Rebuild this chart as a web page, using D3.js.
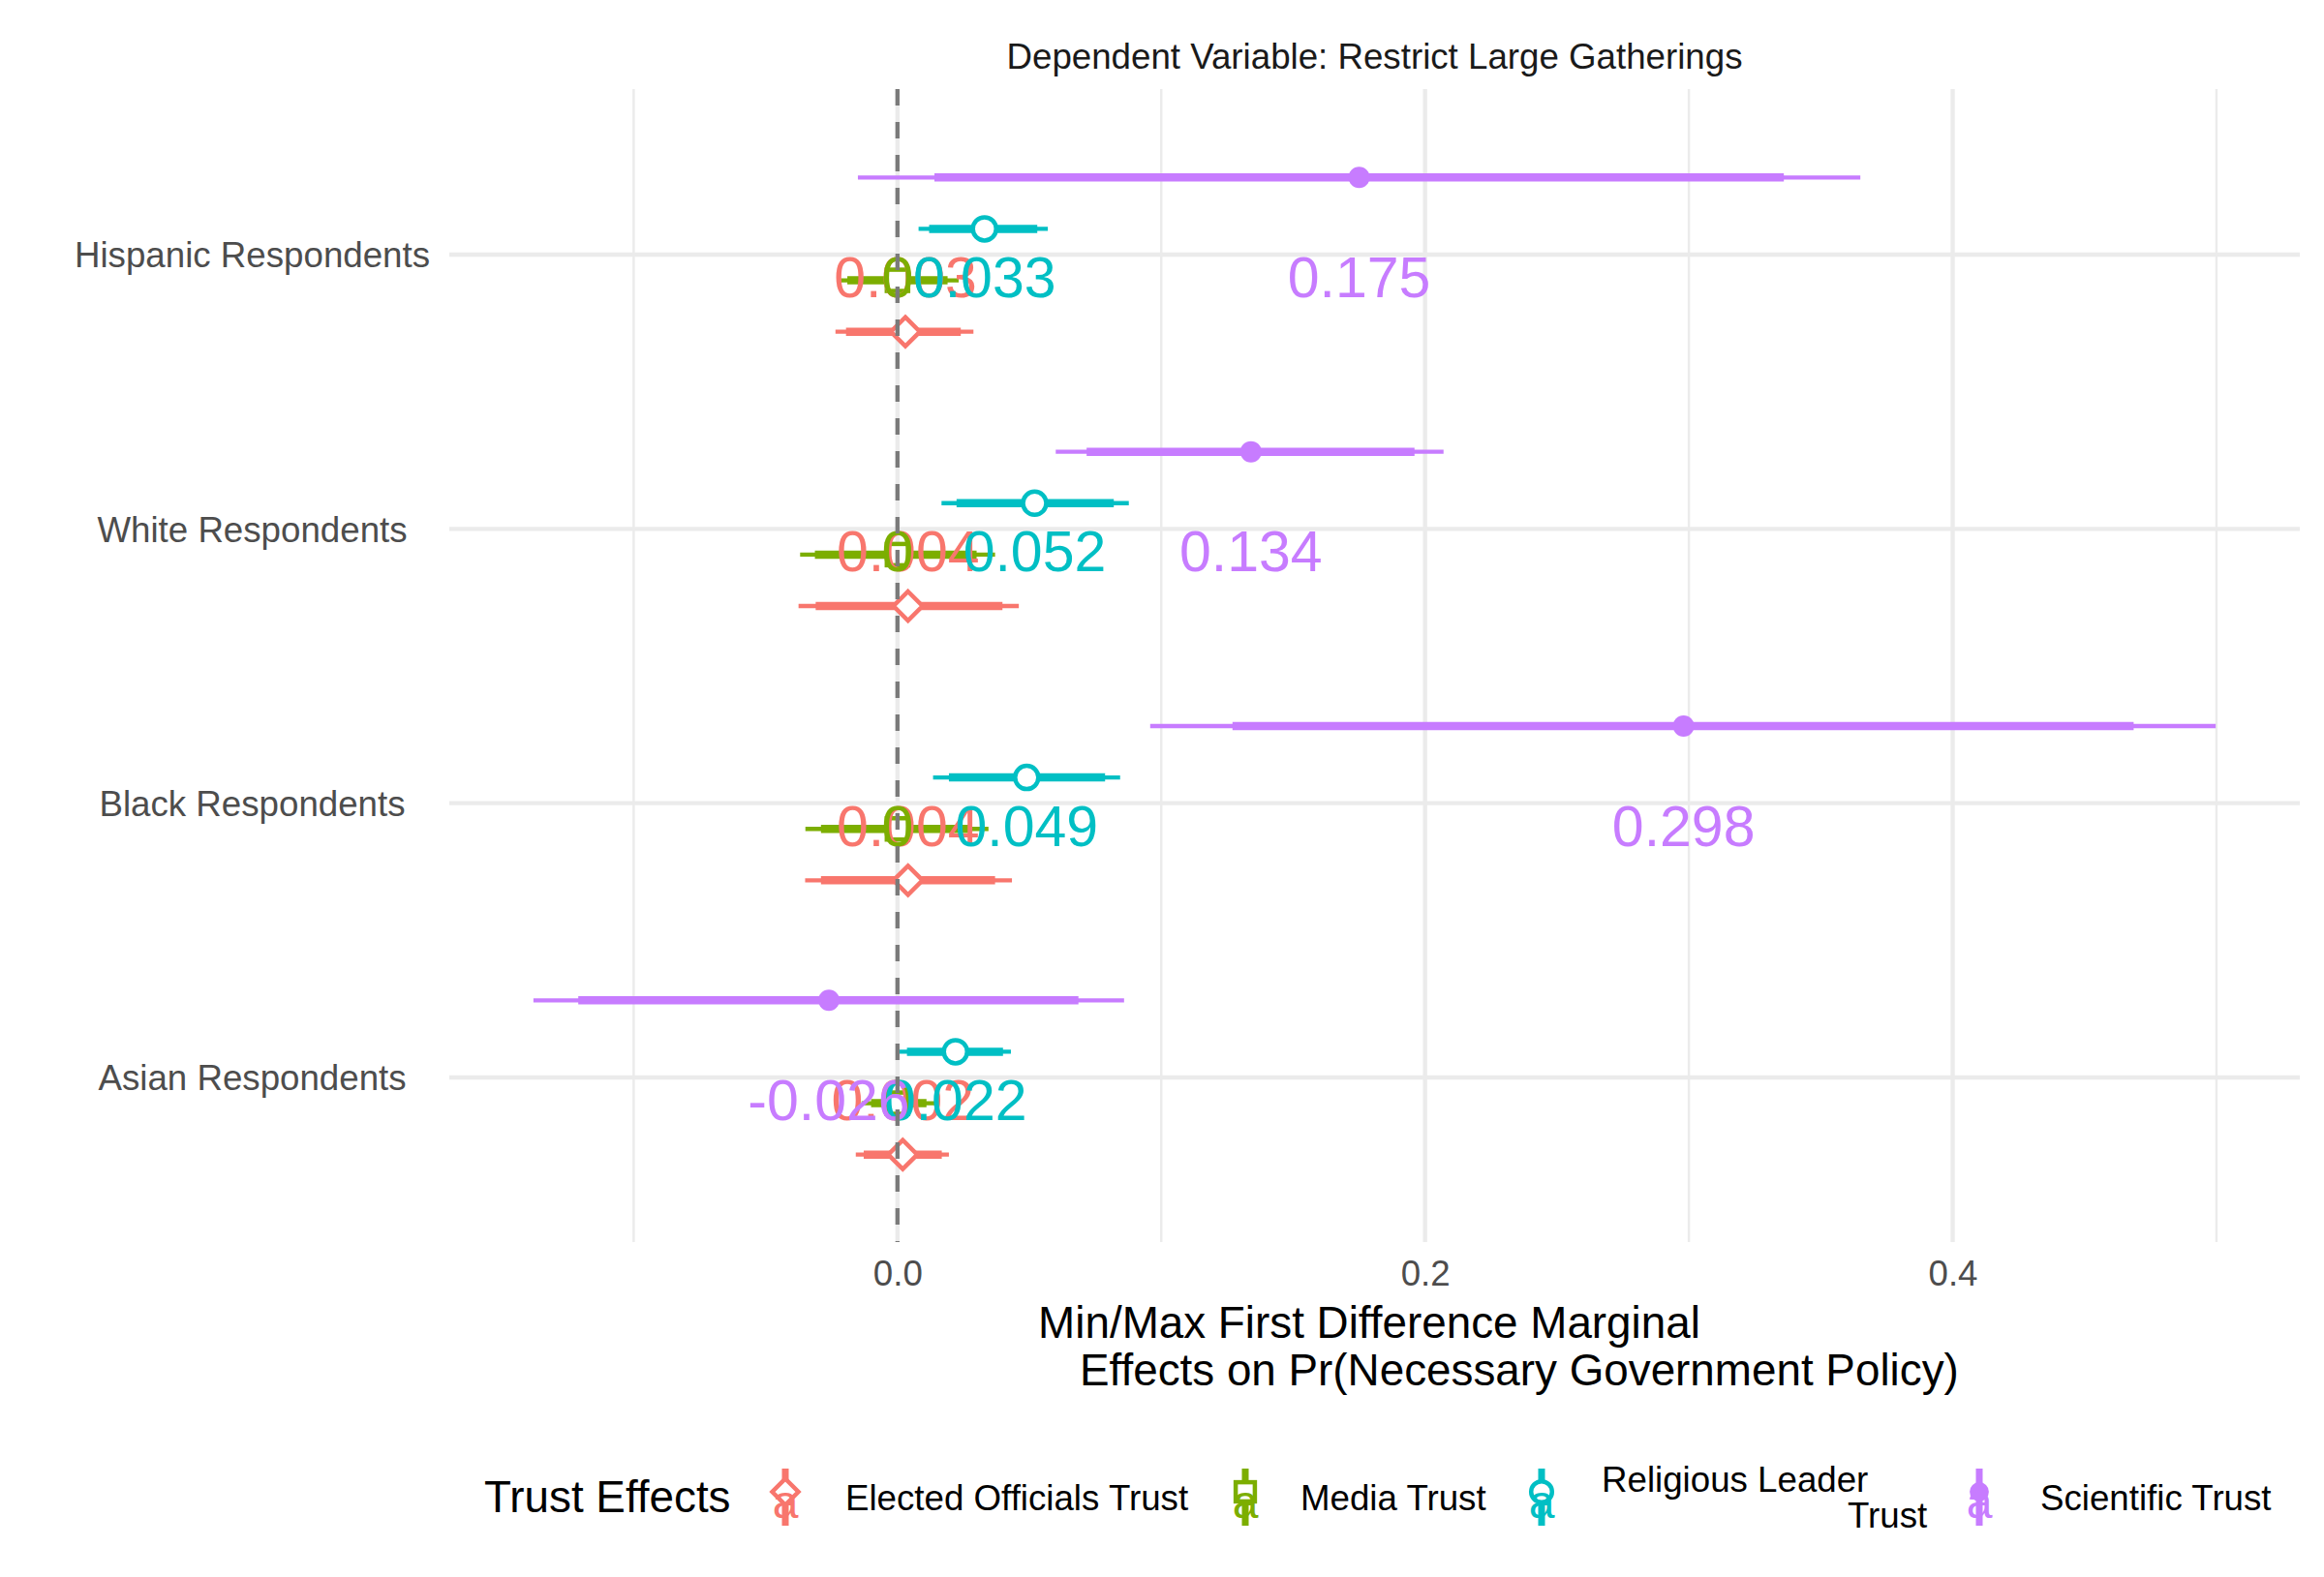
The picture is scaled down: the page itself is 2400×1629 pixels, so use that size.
<!DOCTYPE html>
<html>
<head>
<meta charset="utf-8">
<script src="https://cdn.jsdelivr.net/npm/d3@7"></script>
<style>
  html, body { margin: 0; padding: 0; background: #fff; }
  svg { display: block; font-family: "Liberation Sans", Arial, Helvetica, sans-serif; }
</style>
</head>
<body>
<svg id="chart" width="2400" height="1629"></svg>
<script>
// ---------------- data ----------------
const stripTitle = "Dependent Variable: Restrict Large Gatherings";
const categories = ["Hispanic Respondents", "White Respondents", "Black Respondents", "Asian Respondents"];
const seriesNames = ["Elected Officials Trust", "Media Trust", "Religious Leader Trust", "Scientific Trust"];
const legendLabels = [["Elected Officials Trust"], ["Media Trust"], ["Religious Leader", "Trust"], ["Scientific Trust"]];
const seriesColors = ["#F8766D", "#7CAE00", "#00BFC4", "#C77CFF"];
const seriesShapes = ["diamond", "square", "circle", "dot"];
const legendTitle = "Trust Effects";
const xTitleLines = ["Min/Max First Difference Marginal", "Effects on Pr(Necessary Government Policy)"];
const xTicks = [0.0, 0.2, 0.4];
const xTickLabels = ["0.0", "0.2", "0.4"];
const xMinorTicks = [-0.1, 0.1, 0.3, 0.5];

// point estimates, by category (Hispanic, White, Black, Asian)
const electedEst    = [0.003, 0.004, 0.004, 0.002];
const mediaEst      = [0.000, 0.000, 0.000, 0.000];
const religiousEst  = [0.033, 0.052, 0.049, 0.022];
const scientificEst = [0.175, 0.134, 0.298, -0.026];

// outer (thin) intervals [lo, hi]
const electedOuter    = [[-0.0235, 0.0288], [-0.0375, 0.046], [-0.035, 0.0434], [-0.0158, 0.0195]];
const mediaOuter      = [[-0.0215, 0.0232], [-0.0369, 0.037], [-0.0349, 0.0345], [-0.0136, 0.0143]];
const religiousOuter  = [[0.008, 0.057], [0.0167, 0.0877], [0.0135, 0.0844], [0.0007, 0.043]];
const scientificOuter = [[-0.015, 0.365], [0.060, 0.207], [0.0958, 0.4997], [-0.138, 0.0859]];

// inner (thick) intervals [lo, hi]
const electedInner    = [[-0.0195, 0.024], [-0.031, 0.0398], [-0.029, 0.037], [-0.0128, 0.0168]];
const mediaInner      = [[-0.019, 0.019], [-0.0313, 0.030], [-0.029, 0.028], [-0.010, 0.011]];
const religiousInner  = [[0.012, 0.053], [0.0224, 0.082], [0.0195, 0.0787], [0.0036, 0.040]];
const scientificInner = [[0.014, 0.336], [0.0717, 0.196], [0.127, 0.4686], [-0.121, 0.0686]];

const estimates = [electedEst, mediaEst, religiousEst, scientificEst];
const outers = [electedOuter, mediaOuter, religiousOuter, scientificOuter];
const inners = [electedInner, mediaInner, religiousInner, scientificInner];

// ---------------- build rows ----------------
const rows = [];
seriesNames.forEach((s, si) => {
  categories.forEach((c, ci) => {
    rows.push({ series: s, si, cat: c, est: estimates[si][ci],
      olo: outers[si][ci][0], ohi: outers[si][ci][1],
      ilo: inners[si][ci][0], ihi: inners[si][ci][1] });
  });
});

function fmtLabel(v) {
  const r = Math.round(v * 1000) / 1000;
  if (r === 0) return "0";
  return String(r);
}

// ---------------- layout ----------------
const svg = d3.select("#chart");
const panel = { left: 464, right: 2375, top: 93, bottom: 1283 };

const allVals = rows.flatMap(d => [d.olo, d.ohi, d.est]);
const ext = d3.extent(allVals);
const pad = (ext[1] - ext[0]) * 0.05;
const x = d3.scaleLinear().domain([ext[0] - pad, ext[1] + pad]).range([panel.left, panel.right]);

const y = d3.scalePoint().domain(categories).range([panel.top, panel.bottom]).padding(0.6);
const step = y.step();
const dodgeWidth = 0.75;
// top to bottom within group: Scientific, Religious, Media, Elected
function dodgeY(d) {
  const n = seriesNames.length;
  const pos = (n - 1 - d.si); // Elected lowest
  const off = (pos - (n - 1) / 2) * (dodgeWidth / n);
  return y(d.cat) + off * step;
}

const grid = "#EBEBEB";
// minor vertical gridlines
svg.append("g").selectAll("line").data(xMinorTicks).join("line")
  .attr("x1", d => x(d)).attr("x2", d => x(d))
  .attr("y1", panel.top - 1).attr("y2", panel.bottom)
  .attr("stroke", grid).attr("stroke-width", 2.4);
// major vertical gridlines
svg.append("g").selectAll("line").data(xTicks).join("line")
  .attr("x1", d => x(d)).attr("x2", d => x(d))
  .attr("y1", panel.top - 1).attr("y2", panel.bottom)
  .attr("stroke", grid).attr("stroke-width", 4.3);
// horizontal gridlines
svg.append("g").selectAll("line").data(categories).join("line")
  .attr("x1", panel.left).attr("x2", panel.right)
  .attr("y1", d => y(d)).attr("y2", d => y(d))
  .attr("stroke", grid).attr("stroke-width", 4.3);

// x axis labels
const xAxis = d3.axisBottom(x).tickValues(xTicks).tickFormat((d, i) => xTickLabels[i]).tickSize(0).tickPadding(0);
const gx = svg.append("g").attr("transform", `translate(0, 1328)`).call(xAxis);
gx.select(".domain").remove();
gx.selectAll("text").attr("font-size", 36.7).attr("fill", "#4D4D4D")
  .attr("font-family", "Liberation Sans, Arial, sans-serif").attr("dy", 0).attr("y", 0);

// y axis labels (centered)
const yAxis = d3.axisLeft(y).tickSize(0).tickPadding(0);
const gy = svg.append("g").attr("transform", `translate(260.5, 0)`).call(yAxis);
gy.select(".domain").remove();
gy.selectAll("text").attr("font-size", 36.7).attr("fill", "#4D4D4D")
  .attr("font-family", "Liberation Sans, Arial, sans-serif")
  .attr("text-anchor", "middle").attr("x", 0).attr("dy", "0.35em");

// intervals
const marks = svg.append("g");
rows.forEach(d => {
  const yy = dodgeY(d);
  const col = seriesColors[d.si];
  marks.append("line").attr("x1", x(d.olo)).attr("x2", x(d.ohi)).attr("y1", yy).attr("y2", yy)
    .attr("stroke", col).attr("stroke-width", 4.3);
  marks.append("line").attr("x1", x(d.ilo)).attr("x2", x(d.ihi)).attr("y1", yy).attr("y2", yy)
    .attr("stroke", col).attr("stroke-width", 8.5);
});

function drawShape(g, shape, cx, cy, col, scale) {
  const k = scale || 1;
  if (shape === "diamond") {
    const r = 15 * k;
    g.append("path").attr("d", `M${cx},${cy - r}L${cx + r},${cy}L${cx},${cy + r}L${cx - r},${cy}Z`)
      .attr("fill", "#fff").attr("stroke", col).attr("stroke-width", 4.5);
  } else if (shape === "square") {
    const h = 11 * k;
    g.append("rect").attr("x", cx - h).attr("y", cy - h).attr("width", 2 * h).attr("height", 2 * h)
      .attr("fill", "#fff").attr("stroke", col).attr("stroke-width", 4.5);
  } else if (shape === "circle") {
    g.append("circle").attr("cx", cx).attr("cy", cy).attr("r", 12 * k)
      .attr("fill", "#fff").attr("stroke", col).attr("stroke-width", 4.5);
  } else {
    g.append("circle").attr("cx", cx).attr("cy", cy).attr("r", 11 * k).attr("fill", col);
  }
}
rows.forEach(d => {
  drawShape(marks, seriesShapes[d.si], x(d.est), dodgeY(d), seriesColors[d.si]);
});

// value labels
svg.append("g").selectAll("text").data(rows).join("text")
  .attr("x", d => x(d.est))
  .attr("y", d => y(d.cat) + 44)
  .attr("text-anchor", "middle")
  .attr("font-size", 59)
  .attr("fill", d => seriesColors[d.si])
  .text(d => fmtLabel(d.est));

// zero reference line (dashed)
svg.append("line").attr("x1", x(0)).attr("x2", x(0))
  .attr("y1", panel.top - 1).attr("y2", panel.bottom)
  .attr("stroke", "#7A7A7A").attr("stroke-width", 4.3).attr("stroke-dasharray", "17,17");

// strip title
svg.append("text").attr("x", (panel.left + panel.right) / 2).attr("y", 71)
  .attr("text-anchor", "middle").attr("font-size", 36.7).attr("fill", "#1A1A1A").text(stripTitle);

// x axis title
svg.append("text").attr("x", 1414).attr("y", 1382).attr("text-anchor", "middle")
  .attr("font-size", 45.8).attr("fill", "#000").text(xTitleLines[0]);
svg.append("text").attr("x", 1115).attr("y", 1431).attr("text-anchor", "start")
  .attr("font-size", 45.8).attr("fill", "#000").text(xTitleLines[1]);

// legend
const leg = svg.append("g");
leg.append("text").attr("x", 500).attr("y", 1562).attr("font-size", 45.8).attr("fill", "#000").text(legendTitle);
const keyX = [811, 1286, 1592, 2044];
const labX = [873, 1343, 1654, 2107];
seriesNames.forEach((s, i) => {
  const col = seriesColors[i];
  const g = leg.append("g");
  g.append("line").attr("x1", keyX[i]).attr("x2", keyX[i]).attr("y1", 1517).attr("y2", 1576)
    .attr("stroke", col).attr("stroke-width", 7);
  drawShape(g, seriesShapes[i], keyX[i], 1541, col, 0.9);
  g.append("text").attr("x", keyX[i]).attr("y", 1568).attr("text-anchor", "middle")
    .attr("font-size", 48).attr("fill", col).text("a");
  const lines = legendLabels[i];
  if (lines.length === 1) {
    g.append("text").attr("x", labX[i]).attr("y", 1560).attr("font-size", 36.7).attr("fill", "#000").text(lines[0]);
  } else {
    g.append("text").attr("x", labX[i]).attr("y", 1541).attr("font-size", 36.7).attr("fill", "#000").text(lines[0]);
    g.append("text").attr("x", 1908).attr("y", 1578).attr("font-size", 36.7).attr("fill", "#000").text(lines[1]);
  }
});
</script>
</body>
</html>
